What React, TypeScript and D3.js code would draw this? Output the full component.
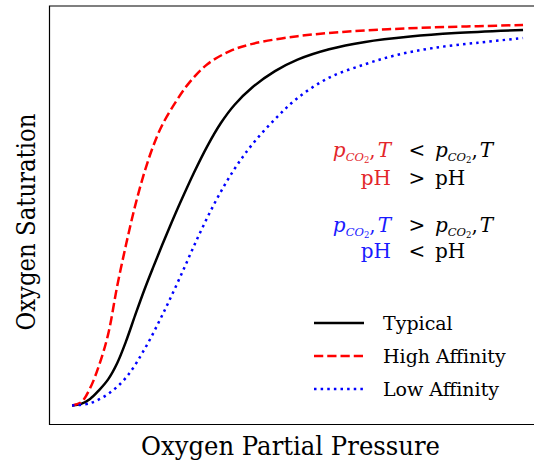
import React from "react";
import * as d3 from "d3";

// Oxygen partial pressure (arbitrary units, 0..100) and saturation (fraction)
const typicalX = [0, 2, 4, 6, 8, 10, 12, 14, 16, 18, 20, 22, 24, 27, 30, 33, 36, 40, 45, 50, 57, 65, 75, 85, 100];
const typicalY = [0, 0.004, 0.017, 0.04, 0.068, 0.11, 0.168, 0.235, 0.3, 0.36, 0.418, 0.474, 0.528, 0.605, 0.675, 0.735, 0.782, 0.828, 0.87, 0.9, 0.927, 0.946, 0.96, 0.969, 0.977];

const highX = [0, 2, 4, 6, 8, 10, 12, 14, 16, 18, 20, 23, 26, 30, 35, 40, 50, 60, 70, 80, 90, 100];
const highY = [0, 0.008, 0.045, 0.105, 0.185, 0.31, 0.42, 0.52, 0.605, 0.675, 0.73, 0.79, 0.84, 0.888, 0.922, 0.941, 0.961, 0.972, 0.979, 0.984, 0.987, 0.99];

const lowX = [0, 4, 8, 12, 16, 20, 24, 28, 32, 36, 40, 45, 50, 57, 65, 72, 80, 90, 100];
const lowY = [0, 0.006, 0.03, 0.073, 0.145, 0.235, 0.335, 0.44, 0.535, 0.615, 0.68, 0.745, 0.8, 0.853, 0.888, 0.912, 0.93, 0.944, 0.956];

const seriesNames = ["Typical", "High Affinity", "Low Affinity"];
const xLabel = "Oxygen Partial Pressure";
const yLabel = "Oxygen Saturation";

const W = 534;
const H = 464;
const FONT = "DejaVu Serif";

export default function App() {
  const allX = [...typicalX, ...highX, ...lowX];
  const allY = [...typicalY, ...highY, ...lowY];
  const [x0, x1] = d3.extent(allX) as [number, number];
  const [y0, y1] = d3.extent(allY) as [number, number];
  const px = (x1 - x0) * 0.05;
  const py = (y1 - y0) * 0.05;

  const left = 49.5, right = 545.6, top = 6, bottom = 424.5;
  const x = d3.scaleLinear().domain([x0 - px, x1 + px]).range([left, right]);
  const y = d3.scaleLinear().domain([y0 - py, y1 + py]).range([bottom, top]);

  const line = d3
    .line<[number, number]>()
    .x((d) => x(d[0]))
    .y((d) => y(d[1]))
    .curve(d3.curveCatmullRom.alpha(0.5));

  const lw = 2.5;
  const series = [
    { name: seriesNames[0], xs: typicalX, ys: typicalY, color: "#000000", dash: "none" },
    { name: seriesNames[1], xs: highX, ys: highY, color: "#ff0000", dash: `${3.7 * lw},${1.6 * lw}` },
    { name: seriesNames[2], xs: lowX, ys: lowY, color: "#0000ff", dash: `${1 * lw},${1.65 * lw}` },
  ];

  const redT = "#e3262b";
  const blueT = "#1a1aff";

  const pco2T = (color: string) => [
    <tspan key="p" fontStyle="italic" fill={color}>p</tspan>,
    <tspan key="co" fontStyle="italic" fontSize={11.5} dy={3.5} fill={color}>CO</tspan>,
    <tspan key="2" fontSize={8.5} dy={2.5} fill={color}>2</tspan>,
    <tspan key="c" dy={-6} fill={color}>,</tspan>,
    <tspan key="T" fontStyle="italic" fill={color} dx={2}>T</tspan>,
  ];

  const annFs = 20;
  const rows = [
    { y: 157, kind: "p", color: redT, op: "<" },
    { y: 185, kind: "pH", color: redT, op: ">" },
    { y: 232, kind: "p", color: blueT, op: ">" },
    { y: 258, kind: "pH", color: blueT, op: "<" },
  ];

  return (
    <svg width={W} height={H} style={{ position: "absolute", left: 0, top: 0 }} fontFamily={FONT}>
      <rect width={W} height={H} fill="#fff" />
      <defs>
        <clipPath id="clip">
          <rect x={left} y={top} width={right - left} height={bottom - top} />
        </clipPath>
      </defs>
      <g clipPath="url(#clip)">
        {series.map((s) => (
          <path
            key={s.name}
            d={line(s.xs.map((v, i) => [v, s.ys[i]] as [number, number])) || ""}
            fill="none"
            stroke={s.color}
            strokeWidth={lw}
            strokeDasharray={s.dash}
          />
        ))}
      </g>
      <path
        d={`M${right},${top}H${left}V${bottom}H${right}`}
        fill="none"
        stroke="#000"
        strokeWidth={1.2}
      />
      <text x={290.5} y={455} textAnchor="middle" fontSize={26} fill="#000" textLength={299} lengthAdjust="spacingAndGlyphs">
        {xLabel}
      </text>
      <text
        transform={`translate(35,222) rotate(-90)`}
        textAnchor="middle"
        fontSize={26}
        fill="#000"
        textLength={217}
        lengthAdjust="spacingAndGlyphs"
      >
        {yLabel}
      </text>
      {rows.map((r, i) => (
        <g key={i} fontSize={annFs}>
          <text x={391} y={r.y} textAnchor="end" fill={r.color}>
            {r.kind === "p" ? pco2T(r.color) : "pH"}
          </text>
          <text x={417} y={r.y} textAnchor="middle" fill="#000">{r.op}</text>
          <text x={435} y={r.y} fill="#000">
            {r.kind === "p" ? pco2T("#000") : "pH"}
          </text>
        </g>
      ))}
      {series.map((s, i) => {
        const ly = 323 + i * 33;
        return (
          <g key={s.name}>
            <line x1={314} x2={364} y1={ly} y2={ly} stroke={s.color} strokeWidth={lw} strokeDasharray={s.dash} />
            <text x={383} y={ly + 7} fontSize={19} fill="#000">{s.name}</text>
          </g>
        );
      })}
    </svg>
  );
}
